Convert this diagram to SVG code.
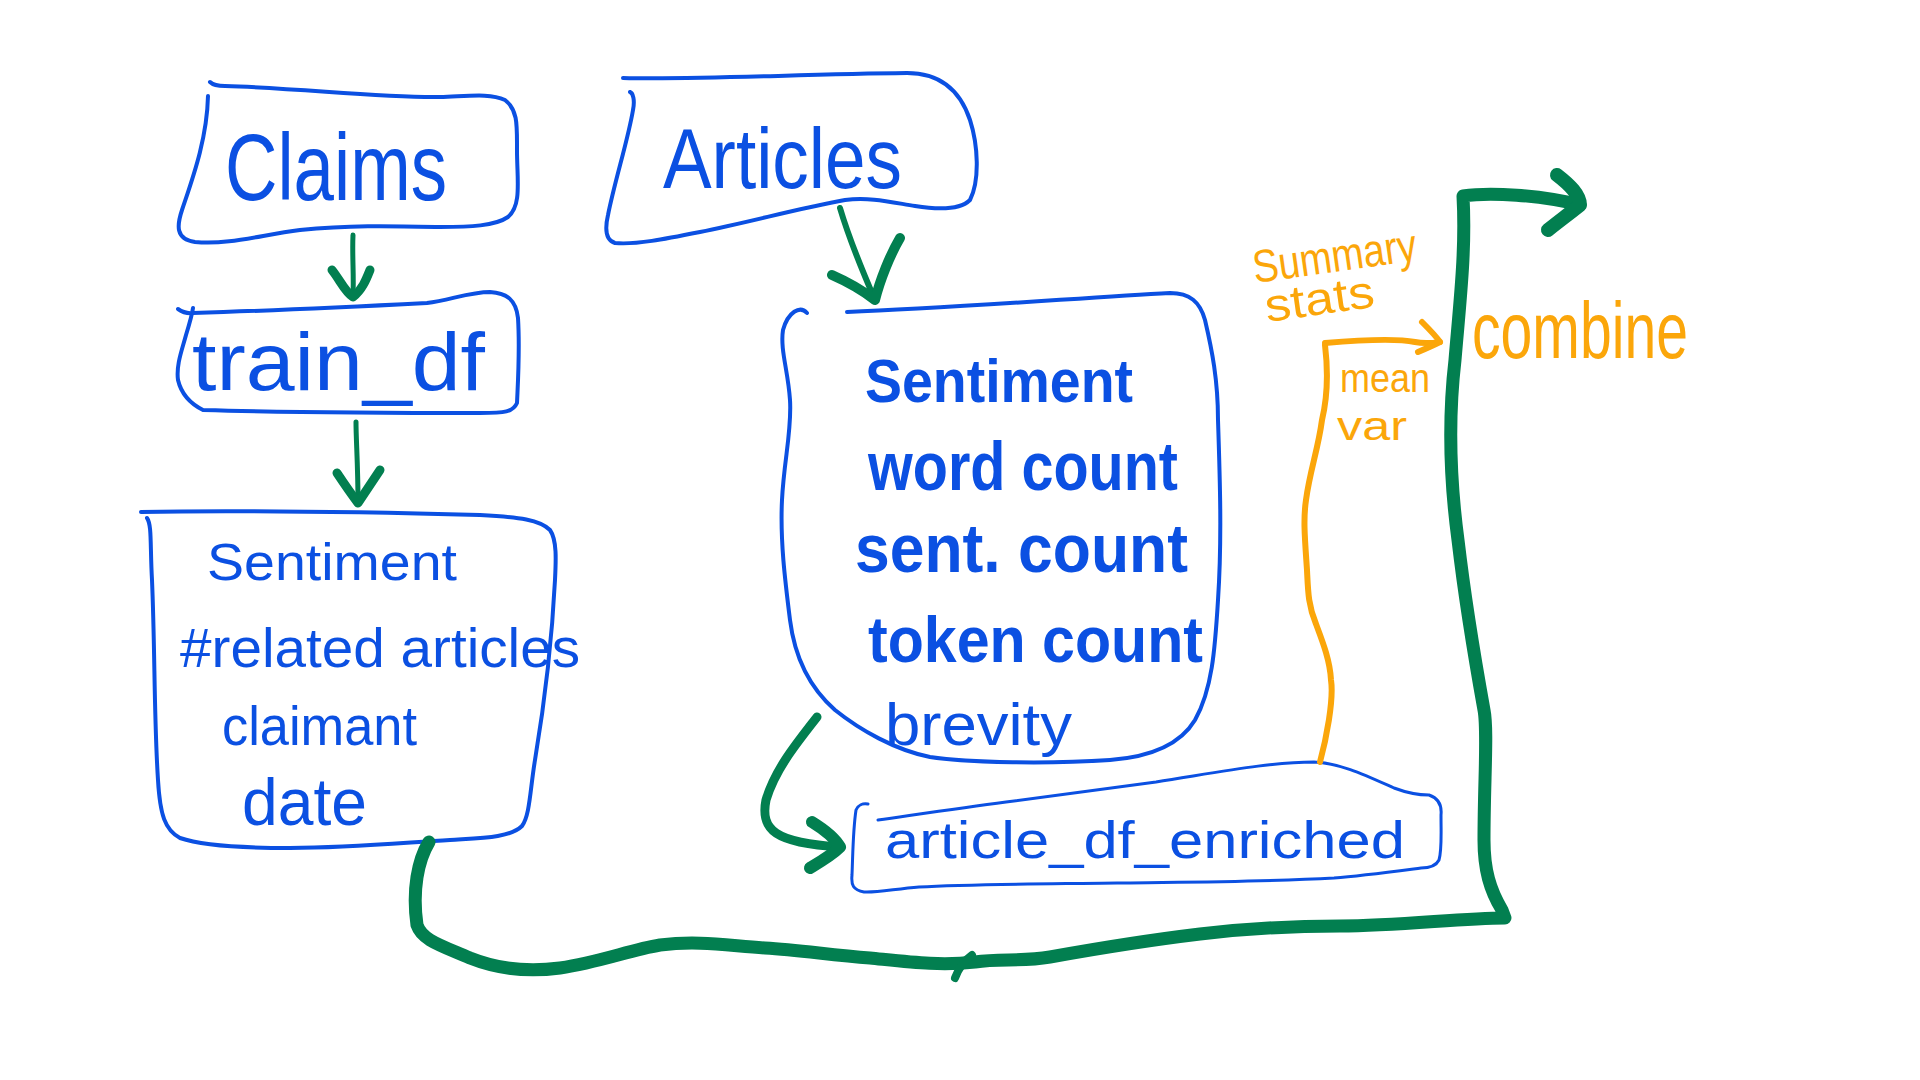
<svg xmlns="http://www.w3.org/2000/svg" width="1920" height="1080" viewBox="0 0 1920 1080">
<style>
.bg{fill:#ffffff}
.box{fill:none;stroke:#0B50E2;stroke-width:4;stroke-linecap:round;stroke-linejoin:round}
.thin{stroke-width:3}
.g{fill:none;stroke:#027F50;stroke-linecap:round;stroke-linejoin:round}
.o{fill:none;stroke:#FBA60A;stroke-width:6;stroke-linecap:round;stroke-linejoin:round}
.t{font-family:"Liberation Sans","Noto Sans",sans-serif;fill:#0B50E2}
.b{font-weight:bold}
.ot{font-family:"Liberation Sans","Noto Sans",sans-serif;fill:#FBA60A}
</style>
<rect class="bg" x="0" y="0" width="1920" height="1080"/>

<g id="node-claims">
<path class="box" d="M210,82 Q214,86 225,86 C300,88 380,98 440,97 C470,96 490,93 505,100 C518,110 517,125 517,150 C517,180 522,205 508,217 C495,226 470,227 440,227 C390,226 350,225 300,230 C260,235 230,245 195,242 C175,239 177,225 182,210 C192,180 207,140 208,96"/>
<text class="t" x="225" y="200" font-size="95" textLength="222" lengthAdjust="spacingAndGlyphs">Claims</text>
</g>

<g id="node-train-df">
<path class="box" d="M178,309 Q185,314 193,313 C260,311 330,308 427,303 C450,300 470,292 490,292 C507,293 516,300 518,318 C520,350 518,380 517,403 C513,412 505,413 480,413 C400,413 300,413 203,410 C193,405 182,397 178,380 C176,365 182,350 186,335 C190,322 192,315 193,308"/>
<text class="t" x="192" y="390" font-size="82" textLength="293" lengthAdjust="spacingAndGlyphs">train_df</text>
</g>

<g id="node-claims-features">
<path class="box" d="M141,512 C250,510 400,513 480,515 C520,517 540,520 550,530 C557,540 556,560 555,580 C552,640 545,700 535,760 C530,790 530,815 522,826 C510,838 480,838 450,840 C400,843 350,848 290,848 C240,848 200,845 180,838 C165,830 160,815 158,780 C154,720 155,650 152,580 C150,545 152,525 147,518"/>
<text class="t" x="207" y="580" font-size="52" textLength="250" lengthAdjust="spacingAndGlyphs">Sentiment</text>
<text class="t" x="180" y="667" font-size="56" textLength="400" lengthAdjust="spacingAndGlyphs">#related articles</text>
<text class="t" x="222" y="745" font-size="56" textLength="195" lengthAdjust="spacingAndGlyphs">claimant</text>
<text class="t" x="242" y="825" font-size="66" textLength="125" lengthAdjust="spacingAndGlyphs">date</text>
</g>

<g id="node-articles">
<path class="box" d="M623,78 C700,80 800,74 907,73 C940,73 960,90 970,120 C978,145 980,180 970,200 C960,210 940,210 915,206 C890,202 870,197 845,200 C800,208 750,222 700,232 C665,239 635,245 615,243 C605,240 605,228 608,215 C615,180 628,140 633,110 C635,100 633,93 630,92"/>
<text class="t" x="663" y="188" font-size="85" textLength="239" lengthAdjust="spacingAndGlyphs">Articles</text>
</g>

<g id="node-article-features">
<path class="box" d="M847,312 C950,308 1080,298 1170,293 C1190,293 1200,302 1205,320 C1212,350 1218,380 1218,420 C1220,480 1222,540 1218,600 C1215,650 1212,690 1195,720 C1180,745 1150,757 1110,760 C1050,764 970,763 930,757 C895,750 860,730 835,710 C810,688 795,660 790,620 C785,580 780,540 782,500 C784,460 792,430 790,400 C788,370 780,350 783,330 C788,312 800,305 807,313"/>
<text class="t b" x="865" y="402" font-size="62" textLength="268" lengthAdjust="spacingAndGlyphs">Sentiment</text>
<text class="t b" x="868" y="490" font-size="68" textLength="310" lengthAdjust="spacingAndGlyphs">word count</text>
<text class="t b" x="855" y="572" font-size="68" textLength="333" lengthAdjust="spacingAndGlyphs">sent. count</text>
<text class="t b" x="868" y="662" font-size="64" textLength="335" lengthAdjust="spacingAndGlyphs">token count</text>
<text class="t" x="885" y="745" font-size="60" textLength="187" lengthAdjust="spacingAndGlyphs">brevity</text>
</g>

<g id="node-article-df-enriched">
<path class="box thin" d="M878,820 C920,814 960,808 1006,802 C1060,795 1110,788 1156,782 C1220,772 1270,762 1314,762 C1340,763 1365,775 1394,788 C1410,794 1420,795 1429,795 C1438,798 1442,805 1441,815 C1441,835 1442,850 1439,860 C1436,866 1428,868 1421,868 C1390,872 1360,876 1334,878 C1260,882 1180,882 1117,883 C1040,884 970,884 919,887 C895,889 875,893 864,892 C853,890 851,885 852,875 C853,850 853,830 856,810 C858,805 863,803 868,804"/>
<text class="t" x="885" y="858" font-size="52" textLength="520" lengthAdjust="spacingAndGlyphs">article_df_enriched</text>
</g>

<g id="annotations">
<text class="ot" x="1255" y="283" font-size="46" textLength="165" lengthAdjust="spacingAndGlyphs" transform="rotate(-8 1255 283)">Summary</text>
<text class="ot" x="1267" y="322" font-size="46" textLength="110" lengthAdjust="spacingAndGlyphs" transform="rotate(-8 1267 322)">stats</text>
<text class="ot" x="1340" y="392" font-size="40" textLength="90" lengthAdjust="spacingAndGlyphs">mean</text>
<text class="ot" x="1337" y="440" font-size="40" textLength="70" lengthAdjust="spacingAndGlyphs">var</text>
<text class="ot" x="1472" y="358" font-size="80" textLength="216" lengthAdjust="spacingAndGlyphs">combine</text>
</g>

<g id="connectors">
<path class="g" stroke-width="5" d="M353,235 C352,255 354,275 353,296"/>
<path class="g" stroke-width="9" d="M332,270 C340,280 345,292 353,297 C362,290 366,280 370,270"/>
<path class="g" stroke-width="5" d="M356,422 C356,440 358,465 358,502"/>
<path class="g" stroke-width="9" d="M337,473 C345,485 352,495 358,503 C364,494 372,482 380,470"/>
<path class="g" stroke-width="6" d="M840,208 C848,235 862,270 875,300"/>
<path class="g" stroke-width="10" d="M832,275 C848,282 862,290 875,300 C880,280 890,255 900,238"/>
<path class="g" stroke-width="9" d="M817,717 C795,745 775,770 766,800 C760,830 775,843 840,847"/>
<path class="g" stroke-width="12" d="M812,822 C825,830 835,838 840,847 C832,855 820,862 810,868"/>
<path class="g" stroke-width="13" d="M429,842 C418,860 412,890 417,925 C422,940 440,945 470,958 C500,970 530,972 560,968 C600,962 630,950 660,945 C700,940 730,946 765,948 C800,950 830,955 870,958 C910,962 940,966 975,962 C1000,958 1020,962 1050,957 C1100,948 1150,940 1200,934 C1250,928 1300,926 1340,926 C1400,926 1460,918 1505,918 L1502,910 C1490,890 1484,870 1484,840 C1484,780 1488,730 1484,710 C1475,660 1465,600 1458,540 C1450,480 1448,420 1455,360 C1460,300 1466,250 1463,196 C1490,192 1540,195 1580,205"/>
<path class="g" stroke-width="14" d="M1557,175 C1570,185 1580,195 1580,205 C1570,213 1558,222 1548,230"/>
<path class="g" stroke-width="8" d="M972,955 C962,962 958,970 955,978"/>
<path class="o" d="M1320,762 C1326,740 1334,700 1331,680 C1330,660 1322,640 1316,624 C1308,605 1308,590 1307,570 C1305,540 1303,520 1306,500 C1310,470 1318,450 1322,420 C1328,395 1328,370 1325,345"/>
<path class="o" d="M1325,343 C1360,340 1395,338 1415,342 C1425,344 1432,343 1440,342"/>
<path class="o" stroke-width="7" d="M1422,322 C1430,330 1436,336 1440,342 C1432,346 1425,349 1418,352"/>
</g>
</svg>
